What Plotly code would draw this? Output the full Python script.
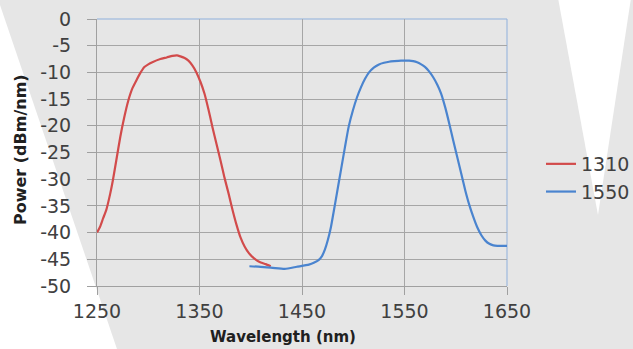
import plotly.graph_objects as go

# ---- data ----
wl_1310 = [1250, 1253, 1256, 1259, 1262.9, 1265.5, 1268.8, 1272.7, 1276.6, 1280.5, 1284.5,
           1288.4, 1292.3, 1296.2, 1300, 1304, 1311.8, 1318, 1323.6, 1328, 1331.4, 1335.5,
           1339.2, 1343, 1347, 1351, 1354.9, 1358.8, 1362.7, 1366.6, 1370.5, 1374.5, 1378.4,
           1382.3, 1386.2, 1390, 1394, 1398, 1401.9, 1405.8, 1409.7, 1414.5, 1419.5]
pw_1310 = [-40, -38.9, -37.3, -35.8, -32.7, -30.2, -26.5, -22.1, -18.4, -15.3, -13.0,
           -11.5, -10.1, -9.0, -8.5, -8.1, -7.5, -7.2, -6.9, -6.8, -7.0, -7.3,
           -7.8, -8.7, -10, -11.8, -14, -17.0, -20.3, -23.4, -26.5, -29.8, -32.7,
           -35.8, -38.6, -40.9, -42.6, -43.8, -44.6, -45.2, -45.6, -45.9, -46.3]

wl_1550 = [1398.7, 1409.7, 1421.4, 1433.2, 1444.9, 1456.7, 1462, 1466.4, 1469.5, 1472.3,
           1475.2, 1478.2, 1481, 1484, 1488, 1491.9, 1495.5, 1499.7, 1503.6, 1507.5, 1511.5,
           1515.4, 1520, 1525.1, 1530, 1534.9, 1540, 1546.7, 1554.5, 1558.5, 1562.3, 1566.3,
           1570.2, 1574, 1578, 1582, 1585.8, 1589.8, 1593.7, 1597.6, 1601.5, 1605.4, 1609.3,
           1613.2, 1617.2, 1621, 1625, 1628.9, 1632.8, 1636.7, 1640.6, 1645, 1650]
pw_1550 = [-46.3, -46.4, -46.6, -46.8, -46.4, -46.0, -45.6, -45.1, -44.4, -43.2,
           -41.4, -39, -36.0, -32.7, -28.3, -24, -20.2, -17.1, -14.7, -12.8, -11.2,
           -10, -9.1, -8.5, -8.2, -8.0, -7.9, -7.8, -7.8, -7.9, -8.1, -8.5,
           -9.0, -9.8, -10.9, -12.3, -14, -16.6, -19.6, -22.8, -25.9, -29.0, -32.1,
           -34.8, -37.1, -39.0, -40.5, -41.5, -42.1, -42.4, -42.5, -42.5, -42.5]

series_names = ["1310", "1550"]
x_ticks = [1250, 1350, 1450, 1550, 1650]
y_ticks = list(range(0, -55, -5))
x_title = "Wavelength (nm)"
y_title = "Power (dBm/nm)"

W, H = 633, 349
ML, MR, MT, MB = 97, 126, 19, 63
PW, PH = W - ML - MR, H - MT - MB


def px(x):
    return (x - ML) / PW


def py(y):
    return (H - MB - y) / PH


fig = go.Figure()
fig.add_trace(go.Scatter(x=wl_1310, y=pw_1310, mode="lines", name=series_names[0],
                         line=dict(color="#d24b4b", width=2.2, shape="spline", smoothing=0.5)))
fig.add_trace(go.Scatter(x=wl_1550, y=pw_1550, mode="lines", name=series_names[1],
                         line=dict(color="#4a84cf", width=2.2, shape="spline", smoothing=0.5)))

tick_font = dict(family="DejaVu Sans", size=19, color="#404040")
title_font = dict(family="DejaVu Sans", size=16, color="#202020")

shapes = [
    # white background wedges
    dict(type="path", xref="paper", yref="paper", layer="below", line=dict(width=0),
         fillcolor="white",
         path=f"M {px(-5)} {py(-2)} L {px(0)} {py(5)} L {px(118)} {py(352)} L {px(-5)} {py(352)} Z"),
    dict(type="path", xref="paper", yref="paper", layer="below", line=dict(width=0),
         fillcolor="white",
         path=f"M {px(558)} {py(-2)} L {px(631)} {py(-2)} L {px(598)} {py(215)} Z"),
    # blue top and right border
    dict(type="line", xref="paper", yref="paper", layer="below", x0=0, x1=1, y0=1, y1=1,
         line=dict(color="#8fb0dc", width=1)),
    dict(type="line", xref="paper", yref="paper", layer="below", x0=1, x1=1, y0=0, y1=1,
         line=dict(color="#8fb0dc", width=1)),
]

annotations = [
    dict(text=f"<b>{x_title}</b>", xref="paper", yref="paper", x=px(283), y=py(337),
         xanchor="center", yanchor="middle", showarrow=False, font=dict(title_font, size=15)),
    dict(text=f"<b>{y_title}</b>", xref="paper", yref="paper", x=px(20), y=py(150),
         xanchor="center", yanchor="middle", showarrow=False, textangle=-90, font=title_font),
]

fig.update_layout(
    width=W, height=H,
    margin=dict(l=ML, r=MR, t=MT, b=MB, autoexpand=False),
    paper_bgcolor="#e6e6e6",
    plot_bgcolor="rgba(0,0,0,0)",
    shapes=shapes,
    annotations=annotations,
    showlegend=True,
    legend=dict(x=px(541), y=py(178), xanchor="left", yanchor="middle",
                font=dict(family="DejaVu Sans", size=19, color="#404040"),
                bgcolor="rgba(0,0,0,0)", itemwidth=30, tracegroupgap=0),
    xaxis=dict(range=[1250, 1650], tickvals=x_ticks, ticktext=[str(v) for v in x_ticks],
               showgrid=True, gridcolor="#a6a6a6", gridwidth=1, automargin=False,
               showline=True, linecolor="#a0a0a0", linewidth=1,
               ticks="outside", ticklen=8, tickcolor="#a0a0a0", ticklabelstandoff=0,
               tickfont=tick_font, zeroline=False),
    yaxis=dict(range=[-50, 0], tickvals=y_ticks, ticktext=[str(v) for v in y_ticks],
               showgrid=True, gridcolor="#a6a6a6", gridwidth=1, automargin=False,
               showline=True, linecolor="#a0a0a0", linewidth=1,
               ticks="outside", ticklen=9, tickcolor="#a0a0a0", ticklabelstandoff=12,
               tickfont=tick_font, zeroline=False),
)

fig.write_html("out.html", config={"displayModeBar": False},
               post_script="document.body.style.margin='0';document.body.style.overflow='hidden';")
